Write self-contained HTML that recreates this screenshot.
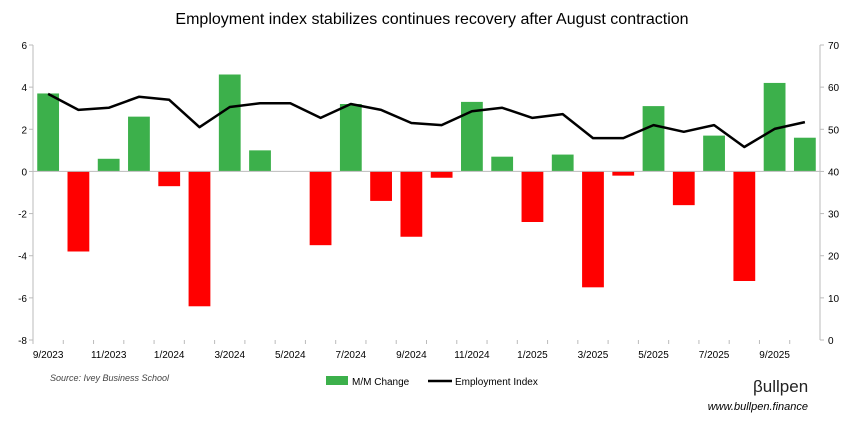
<!DOCTYPE html>
<html><head><meta charset="utf-8"><style>
body{margin:0;background:#fff;font-family:"Liberation Sans",sans-serif;}
svg text{font-family:"Liberation Sans",sans-serif;}
</style></head><body>
<svg id="chart" width="864" height="425" xmlns="http://www.w3.org/2000/svg">
<text x="432" y="24" text-anchor="middle" font-size="16" fill="#000">Employment index stabilizes continues recovery after August contraction</text>
<g id="grid"></g><g id="bars"></g><g id="line"></g><g id="axes"></g>
<text x="50" y="381" font-size="9" font-style="italic" fill="#444">Source: Ivey Business School</text>
<g>
<rect x="326" y="376" width="22" height="9" fill="#3cb04b"></rect>
<text x="352" y="385" font-size="10">M/M Change</text>
<line x1="428" y1="381" x2="452" y2="381" stroke="#000" stroke-width="2.5"></line>
<text x="455" y="385" font-size="10">Employment Index</text>
</g>
<text x="753" y="392" font-size="17" fill="#222">βullpen</text>
<text x="808" y="410" text-anchor="end" font-size="11" font-style="italic" fill="#000">www.bullpen.finance</text>
</svg>
<script>
const months=["9/2023","10/2023","11/2023","12/2023","1/2024","2/2024","3/2024","4/2024","5/2024","6/2024","7/2024","8/2024","9/2024","10/2024","11/2024","12/2024","1/2025","2/2025","3/2025","4/2025","5/2025","6/2025","7/2025","8/2025","9/2025","10/2025"];
const mmChange=[3.7,-3.8,0.6,2.6,-0.7,-6.4,4.6,1.0,0,-3.5,3.2,-1.4,-3.1,-0.3,3.3,0.7,-2.4,0.8,-5.5,-0.2,3.1,-1.6,1.7,-5.2,4.2,1.6];
const indexVals=[58.4,54.6,55.1,57.7,57.0,50.5,55.3,56.2,56.2,52.7,56.0,54.6,51.5,51.0,54.3,55.1,52.7,53.6,47.9,47.9,51.0,49.4,51.0,45.8,50.1,51.7];
const leftTicks=[6,4,2,0,-2,-4,-6,-8];
const rightTicks=[70,60,50,40,30,20,10,0];
const NS="http://www.w3.org/2000/svg";
const X0=33,X1=820,Y0=45,Y1=340;
const step=(X1-X0)/months.length;
const xc=i=>X0+step*(i+0.5);
const yL=v=>Y0+(6-v)/14*(Y1-Y0);
const yR=v=>Y0+(70-v)/70*(Y1-Y0);
function mk(tag,attrs,parent){const e=document.createElementNS(NS,tag);for(const k in attrs)e.setAttribute(k,attrs[k]);parent.appendChild(e);return e;}
const bars=document.getElementById('bars'),line=document.getElementById('line'),axes=document.getElementById('axes');
mmChange.forEach((v,i)=>{
 if(v===0)return;
 const r=mk('rect',{x:xc(i)-step*0.36,y:Math.min(yL(v),yL(0)),width:step*0.72,height:Math.abs(yL(v)-yL(0)),fill:v>=0?'#3cb04b':'#ff0000'},bars);
 
 
});
const pts=indexVals.map((v,i)=>xc(i).toFixed(1)+','+yR(v).toFixed(1)).join(' ');
const pl=mk('polyline',{points:pts,fill:'none',stroke:'#000','stroke-width':2.5,'stroke-linejoin':'round'},line);


const al=mk('line',{x1:X0,y1:Y0,x2:X0,y2:Y1,stroke:'#bbb'},axes);


const ar=mk('line',{x1:X1,y1:Y0,x2:X1,y2:Y1,stroke:'#bbb'},axes);


const a0=mk('line',{x1:X0,y1:yL(0),x2:X1,y2:yL(0),stroke:'#bbb'},axes);


leftTicks.forEach(t=>{
 const tx=mk('text',{x:X0-6,y:yL(t)+4,'text-anchor':'end','font-size':10},axes);tx.textContent=t;
 
 
 mk('line',{x1:X0-4,y1:yL(t),x2:X0,y2:yL(t),stroke:'#bbb'},axes);
});
rightTicks.forEach(t=>{
 const tx=mk('text',{x:X1+8,y:yR(t)+4,'font-size':10},axes);tx.textContent=t;
 
 
 mk('line',{x1:X1,y1:yR(t),x2:X1+4,y2:yR(t),stroke:'#bbb'},axes);
});
months.forEach((m,i)=>{
 mk('line',{x1:X0+step*i,y1:Y1,x2:X0+step*i,y2:Y1+4,stroke:'#bbb'},axes);
 if(i%2)return;
 const tx=mk('text',{x:xc(i),y:Y1+18,'text-anchor':'middle','font-size':10},axes);tx.textContent=m;
 
 
});
</script>
</body></html>
